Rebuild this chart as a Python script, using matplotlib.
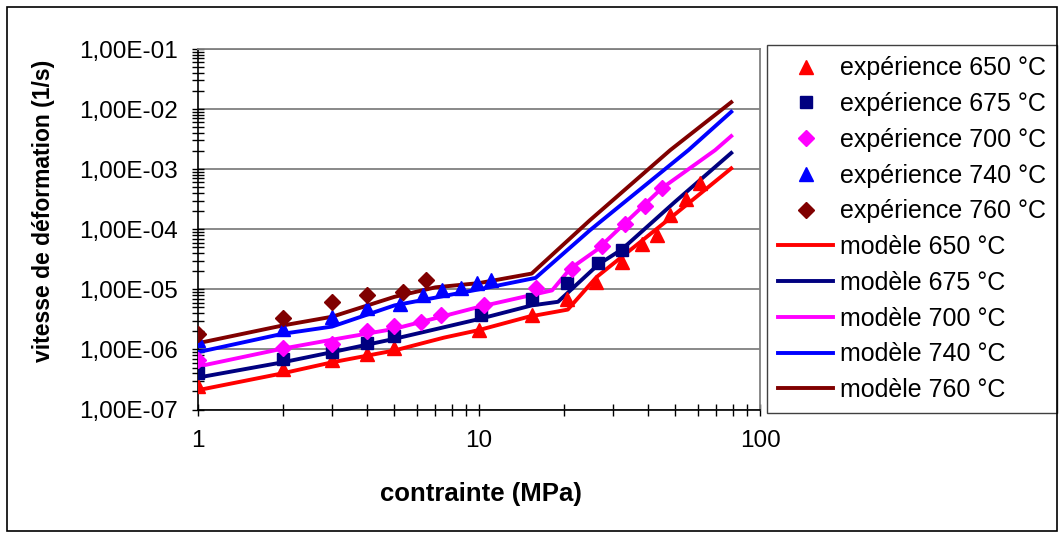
import matplotlib
matplotlib.use("Agg")
import matplotlib.pyplot as plt
import matplotlib.ticker as mticker
from matplotlib.patches import Rectangle

plt.rcParams['font.family'] = ['Liberation Sans', 'DejaVu Sans']

# experimental points (contrainte MPa, vitesse 1/s)
x_exp_650 = [1, 2, 3, 4, 5, 10, 15.4, 20.5, 26.1, 32.2, 37.9, 42.9, 47.9, 54.5, 61.1]
y_exp_650 = [2.5e-7, 4.8e-7, 6.6e-7, 8.3e-7, 1.07e-6, 2.1e-6, 3.7e-6, 6.8e-6,
             1.31e-5, 2.9e-5, 5.6e-5, 7.9e-5, 1.7e-4, 3.2e-4, 5.8e-4]
x_exp_675 = [1, 2, 3, 4, 5, 10.2, 15.4, 20.6, 26.6, 32.2]
y_exp_675 = [4.1e-7, 6.8e-7, 9.0e-7, 1.27e-6, 1.7e-6, 3.7e-6, 6.8e-6, 1.27e-5, 2.7e-5, 4.6e-5]
x_exp_700 = [1, 2, 3, 4, 5, 6.2, 7.3, 10.4, 16.0, 21.4, 27.3, 33.1, 39.0, 44.7]
y_exp_700 = [6.7e-7, 1.05e-6, 1.24e-6, 2.0e-6, 2.5e-6, 2.85e-6, 3.7e-6, 5.4e-6,
             1.07e-5, 2.2e-5, 5.2e-5, 1.24e-4, 2.4e-4, 4.8e-4]
x_exp_740 = [1, 2, 3, 4, 5.25, 6.3, 7.4, 8.6, 9.8, 11.0]
y_exp_740 = [1.41e-6, 2.2e-6, 3.4e-6, 4.8e-6, 5.8e-6, 7.9e-6, 9.6e-6, 1.07e-5, 1.26e-5, 1.41e-5]
x_exp_760 = [1, 2, 3, 4, 5.35, 6.5]
y_exp_760 = [1.82e-6, 3.39e-6, 6.1e-6, 7.9e-6, 9.0e-6, 1.45e-5]

# model curves
x_mod_650 = [1, 2, 3, 5, 7.5, 10, 15, 20.7, 26.2, 50, 79]
y_mod_650 = [2.1e-7, 4.0e-7, 6.1e-7, 9.6e-7, 1.57e-6, 2.1e-6, 3.5e-6, 4.6e-6, 1.6e-5, 1.8e-4, 1.03e-3]
x_mod_675 = [1, 2, 3, 5, 10, 15.4, 19.1, 26.6, 32.2, 50, 79]
y_mod_675 = [3.4e-7, 6.1e-7, 9.0e-7, 1.5e-6, 3.2e-6, 5.4e-6, 6.2e-6, 2.6e-5, 4.6e-5, 2.9e-4, 1.86e-3]
x_mod_700 = [1, 2, 3, 5, 10, 18.2, 21.1, 26.2, 44.7, 69.2, 79]
y_mod_700 = [5.2e-7, 1.03e-6, 1.45e-6, 2.2e-6, 5.1e-6, 9.6e-6, 2.2e-5, 4.5e-5, 4.8e-4, 2.07e-3, 3.55e-3]
x_mod_740 = [1, 2, 3, 5, 10, 15.9, 24.8, 55.6, 79]
y_mod_740 = [9.0e-7, 1.82e-6, 2.4e-6, 5.4e-6, 1.0e-5, 1.55e-5, 9.6e-5, 2.07e-3, 9.0e-3]
x_mod_760 = [1, 2, 3, 5, 7, 10, 15.4, 24.8, 47.9, 79]
y_mod_760 = [1.27e-6, 2.5e-6, 3.5e-6, 7.5e-6, 1.08e-5, 1.27e-5, 1.83e-5, 1.41e-4, 2.07e-3, 1.3e-2]

temps = ['650', '675', '700', '740', '760']
colors = ['#FF0000', '#000080', '#FF00FF', '#0000FF', '#800000']
markers = ['^', 's', 'D', '^', 'D']
msizes = [10.5, 8.5, 8, 10.5, 8]

y_ticks = [1e-7, 1e-6, 1e-5, 1e-4, 1e-3, 1e-2, 1e-1]
y_ticklabels = ['1,00E-07', '1,00E-06', '1,00E-05', '1,00E-04', '1,00E-03', '1,00E-02', '1,00E-01']
x_ticks = [1, 10, 100]
x_ticklabels = ['1', '10', '100']

W, H = 1059, 539
fig = plt.figure(figsize=(W / 100, H / 100), dpi=100)
ax = fig.add_axes([198 / W, 1 - 409.5 / H, (760 - 198) / W, (409.5 - 49) / H])

exp_x = [x_exp_650, x_exp_675, x_exp_700, x_exp_740, x_exp_760]
exp_y = [y_exp_650, y_exp_675, y_exp_700, y_exp_740, y_exp_760]
mod_x = [x_mod_650, x_mod_675, x_mod_700, x_mod_740, x_mod_760]
mod_y = [y_mod_650, y_mod_675, y_mod_700, y_mod_740, y_mod_760]

handles = []
for i in range(5):
    h, = ax.plot(exp_x[i], exp_y[i], linestyle='none', marker=markers[i],
                 markersize=msizes[i], color=colors[i], zorder=4,
                 label='expérience %s °C' % temps[i])
    handles.append(h)
for i in range(5):
    h, = ax.plot(mod_x[i], mod_y[i], color=colors[i], linewidth=2.8, zorder=3,
                 label='modèle %s °C' % temps[i])
    handles.append(h)

ax.set_xscale('log')
ax.set_yscale('log')
ax.set_xlim(1, 100)
ax.set_ylim(1e-7, 1e-1)

ax.yaxis.set_major_locator(mticker.FixedLocator(y_ticks))
ax.yaxis.set_major_formatter(mticker.FixedFormatter(y_ticklabels))
ax.yaxis.set_minor_locator(mticker.LogLocator(base=10, subs=range(2, 10), numticks=20))
ax.yaxis.set_minor_formatter(mticker.NullFormatter())
ax.xaxis.set_major_locator(mticker.FixedLocator(x_ticks))
ax.xaxis.set_major_formatter(mticker.FixedFormatter(x_ticklabels))
ax.xaxis.set_minor_locator(mticker.LogLocator(base=10, subs=range(2, 10), numticks=20))
ax.xaxis.set_minor_formatter(mticker.NullFormatter())

ax.tick_params(axis='both', which='both', direction='inout', width=1, color='black')
ax.tick_params(axis='both', which='major', length=9, labelsize=17.5, pad=10)
ax.tick_params(axis='both', which='minor', length=8)

ax.grid(True, axis='y', which='major', color='#808080', linewidth=1.3)
ax.set_axisbelow(True)
for side in ['top', 'right']:
    ax.spines[side].set_color('#808080')
    ax.spines[side].set_linewidth(1.3)
for side in ['left', 'bottom']:
    ax.spines[side].set_color('black')
    ax.spines[side].set_linewidth(1.2)

fig.text(44 / W, 1 - 211 / H, 'vitesse de déformation (1/s)', rotation=90,
         ha='center', va='center', fontsize=16.5, fontweight='bold')
fig.text(481 / W, 1 - 494 / H, 'contrainte (MPa)', ha='center', va='center',
         fontsize=18.5, fontweight='bold')

leg = ax.legend(handles=handles, loc='upper left',
                bbox_to_anchor=(767 / W, 1 - 45 / H), bbox_transform=fig.transFigure,
                fontsize=18, numpoints=1, handlelength=2.2, handletextpad=0.25,
                labelspacing=0.47, borderpad=0.45, borderaxespad=0,
                fancybox=False, framealpha=1, edgecolor='#404040')
leg.get_frame().set_linewidth(1.0)

fig.patches.append(Rectangle((7 / W, 8 / H), (W - 9) / W, (H - 15) / H,
                             transform=fig.transFigure, fill=False,
                             edgecolor='black', linewidth=1.2))

fig.savefig('out.png', dpi=100)
plt.close(fig)
